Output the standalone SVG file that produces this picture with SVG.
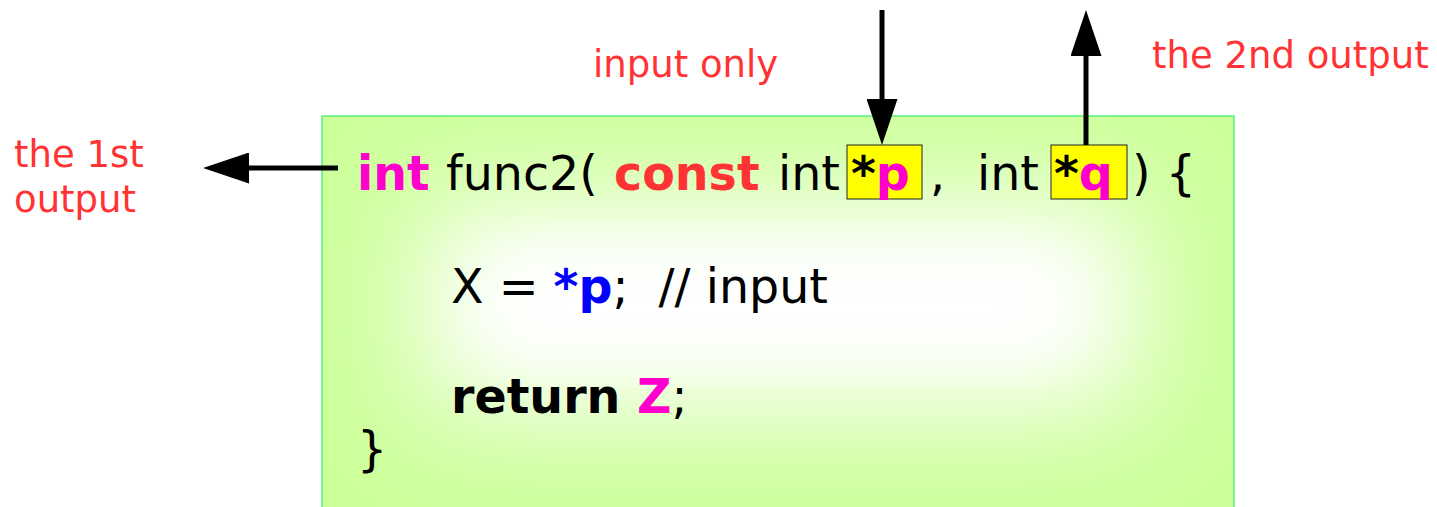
<svg xmlns="http://www.w3.org/2000/svg" width="1437" height="507" viewBox="0 0 1437 507">
<style>
.code{font-family:"DejaVu Sans",sans-serif;font-size:47.5px;fill:#000}
.b{font-weight:bold}
.mag{fill:#ff00cc}
.red{fill:#ff3333}
.blue{fill:#0000ff}
.lbl{font-family:"DejaVu Sans",sans-serif;font-size:37px;fill:#ff3333}
.hl{fill:#ffff00;stroke:#222;stroke-width:1}
.conn{stroke:#000;stroke-width:5;fill:none}
</style>
<defs>
<marker id="ah" viewBox="0 0 10 10" refX="0" refY="5" markerWidth="9.2" markerHeight="6.2" markerUnits="strokeWidth" orient="auto" preserveAspectRatio="none">
<path d="M0,0L10,5L0,10z" fill="#000"/>
</marker>
<filter id="blur" x="-50%" y="-50%" width="200%" height="200%"><feGaussianBlur stdDeviation="60"/></filter>
<filter id="blur2" x="-50%" y="-50%" width="200%" height="200%"><feGaussianBlur stdDeviation="35"/></filter>
<clipPath id="boxclip"><rect x="322" y="116" width="912" height="400"/></clipPath>
</defs>
<rect width="1437" height="507" fill="#fff"/>
<g id="codebox">
<rect x="322" y="116" width="912" height="400" fill="#ccff99"/>
<g clip-path="url(#boxclip)"><rect x="420" y="200" width="720" height="210" fill="#fff" filter="url(#blur)"/><rect x="490" y="260" width="580" height="85" fill="#fff" filter="url(#blur2)"/></g>
<rect x="322" y="116" width="912" height="400" fill="none" stroke="#33ee66" stroke-width="1.2"/>
<rect class="hl" x="847" y="145" width="75" height="54"/>
<rect class="hl" x="1051" y="145" width="76" height="54"/>
<text class="code" y="190"><tspan x="357" class="b mag">int</tspan><tspan x="446">func2(</tspan><tspan x="614" class="b red">const</tspan><tspan x="778">int</tspan><tspan x="851" class="b">*</tspan><tspan class="b mag">p</tspan><tspan x="930">,</tspan><tspan x="977">int</tspan><tspan x="1054" class="b">*</tspan><tspan class="b mag">q</tspan><tspan x="1132">) {</tspan></text>
<text class="code" y="303" xml:space="preserve"><tspan x="451">X = </tspan><tspan class="b blue">*p</tspan><tspan>;  // input</tspan></text>
<text class="code" y="413" xml:space="preserve"><tspan x="451" class="b">return </tspan><tspan class="b mag">Z</tspan><tspan>;</tspan></text>
<text class="code" x="357" y="466">}</text>
</g>
<g id="labels">
<text class="lbl" x="593" y="77">input only</text>
<text class="lbl" x="1152" y="68">the 2nd output</text>
<text class="lbl" x="14" y="167">the 1st</text>
<text class="lbl" x="14" y="212">output</text>
</g>
<g id="connectors">
<line class="conn" x1="882" y1="10" x2="882" y2="99" marker-end="url(#ah)"/>
<line class="conn" x1="1086" y1="145" x2="1086" y2="56" marker-end="url(#ah)"/>
<line class="conn" x1="338" y1="168" x2="249" y2="168" marker-end="url(#ah)"/>
</g>
</svg>
